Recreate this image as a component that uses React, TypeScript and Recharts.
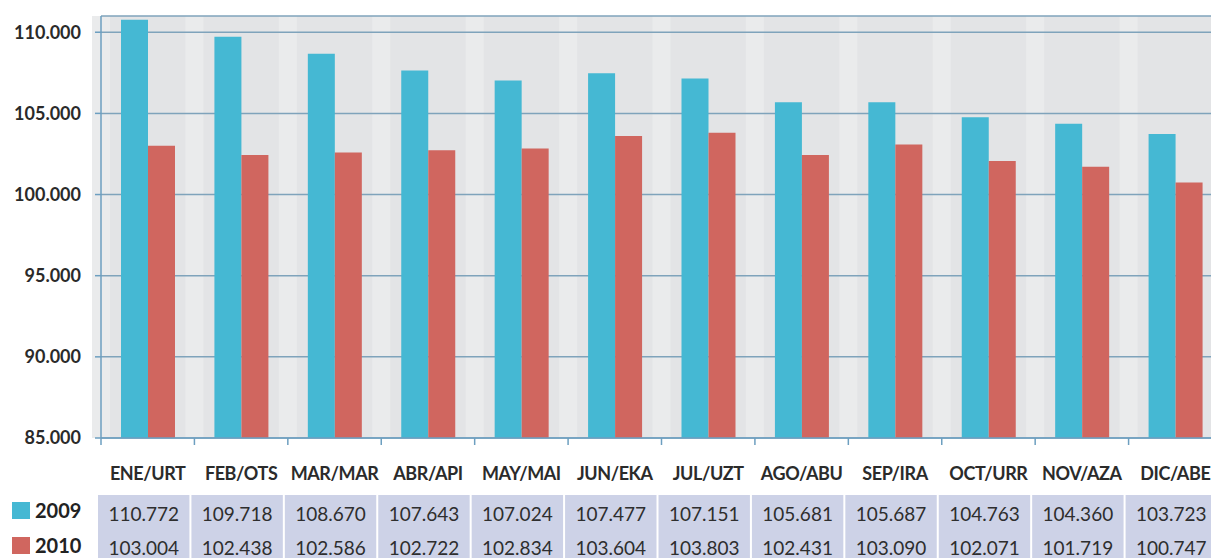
import { Bar, BarChart, CartesianGrid, XAxis, YAxis } from 'recharts';

const categories = [
  'ENE/URT', 'FEB/OTS', 'MAR/MAR', 'ABR/API', 'MAY/MAI', 'JUN/EKA',
  'JUL/UZT', 'AGO/ABU', 'SEP/IRA', 'OCT/URR', 'NOV/AZA', 'DIC/ABE',
];
const values2009 = [110772, 109718, 108670, 107643, 107024, 107477, 107151, 105681, 105687, 104763, 104360, 103723];
const values2010 = [103004, 102438, 102586, 102722, 102834, 103604, 103803, 102431, 103090, 102071, 101719, 100747];
const yTicks = [85000, 90000, 95000, 100000, 105000, 110000];

const BLUE = '#45b8d3';
const RED = '#d0665f';
const AXIS = '#6d9fc0';

const fmt = (n: number) => String(n).replace(/\B(?=(\d{3})+(?!\d))/g, '.');

const data = categories.map((label, i) => ({
  label,
  v2009: values2009[i],
  v2010: values2010[i],
}));

function CategoryTick(props: any) {
  const { x, y, payload } = props;
  const i = categories.indexOf(payload.value);
  const half = payload.offset || 46.7;
  return (
    <g>
      <line x1={x - half} x2={x - half} y1={y} y2={y + 7} stroke={AXIS} strokeWidth={1.5} />
      <text
        x={x}
        y={y + 35}
        textAnchor="middle"
        dominantBaseline="central"
        fill="#2b2b2b"
        style={{ fontFamily: 'Lato', fontWeight: 700, fontSize: 18, letterSpacing: -0.4 }}
      >
        {payload.value}
      </text>
      <rect x={x - half - 3} y={y + 57} width={half * 2 - 2} height={64} fill="#cdd2e7" />
      <text
        x={x - 4}
        y={y + 75}
        textAnchor="middle"
        dominantBaseline="central"
        fill="#2e2e2e"
        style={{ fontFamily: 'Lato', fontSize: 19 }}
      >
        {fmt(values2009[i])}
      </text>
      <text
        x={x - 4}
        y={y + 109}
        textAnchor="middle"
        dominantBaseline="central"
        fill="#2e2e2e"
        style={{ fontFamily: 'Lato', fontSize: 19 }}
      >
        {fmt(values2010[i])}
      </text>
    </g>
  );
}

const legendRows = [
  { label: '2009', color: BLUE, top: 502 },
  { label: '2010', color: RED, top: 537 },
];

export default function App() {
  return (
    <div
      style={{
        position: 'absolute',
        left: 0,
        top: 0,
        width: 1211,
        height: 558,
        overflow: 'hidden',
        background: '#fff',
      }}
    >
      <BarChart
        width={1222}
        height={558}
        data={data}
        margin={{ top: 16, right: 0, left: 0, bottom: 0 }}
        barCategoryGap={20}
        barGap={0}
      >
        <CartesianGrid fill="#e3e4e6" stroke="none" horizontal={false} vertical={false} />
        <CartesianGrid
          horizontal={false}
          stroke="#eaebec"
          strokeWidth={18}
          verticalCoordinatesGenerator={({ offset }: any) =>
            categories.map((_, i) => offset.left + (i * offset.width) / categories.length)
          }
        />
        <CartesianGrid vertical={false} stroke="#7fa3bb" strokeWidth={1.5} />
        <XAxis
          dataKey="label"
          height={120}
          interval={0}
          tickSize={0}
          tickMargin={0}
          axisLine={{ stroke: AXIS, strokeWidth: 1.5 }}
          tick={<CategoryTick />}
        />
        <YAxis
          width={101}
          domain={[85000, 111000]}
          ticks={yTicks}
          allowDataOverflow
          tickFormatter={fmt}
          tickSize={6}
          tickMargin={14}
          axisLine={{ stroke: AXIS, strokeWidth: 1.5 }}
          tickLine={{ stroke: AXIS, strokeWidth: 1.5 }}
          tick={{ fill: '#2a2a2a', fontSize: 18, fontWeight: 700, fontFamily: 'Lato' }}
        />
        <Bar dataKey="v2009" name="2009" fill={BLUE} isAnimationActive={false} />
        <Bar dataKey="v2010" name="2010" fill={RED} isAnimationActive={false} />
      </BarChart>
      {legendRows.map((row) => (
        <div
          key={row.label}
          style={{ position: 'absolute', left: 12, top: row.top, display: 'flex', alignItems: 'center' }}
        >
          <div style={{ width: 18, height: 17, background: row.color }} />
          <span
            style={{
              marginLeft: 5,
              fontFamily: 'Lato',
              fontWeight: 700,
              fontSize: 20,
              lineHeight: '17px',
              color: '#222',
            }}
          >
            {row.label}
          </span>
        </div>
      ))}
    </div>
  );
}
